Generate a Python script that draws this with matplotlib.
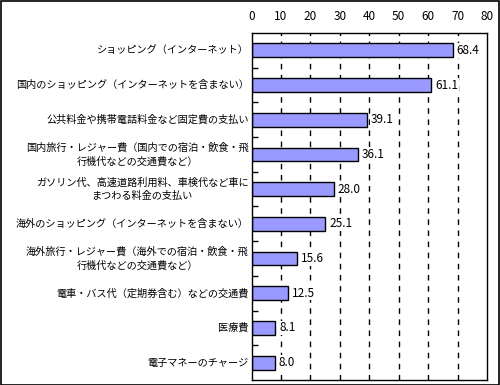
import matplotlib
matplotlib.use('Agg')
import matplotlib.pyplot as plt
from matplotlib.patches import Rectangle

plt.rcParams['font.family'] = ['Noto Sans CJK JP', 'DejaVu Sans']

# データ
categories = [
    'ショッピング（インターネット）',
    '国内のショッピング（インターネットを含まない）',
    '公共料金や携帯電話料金など固定費の支払い',
    '国内旅行・レジャー費（国内での宿泊・飲食・飛\n行機代などの交通費など）',
    'ガソリン代、高速道路利用料、車検代など車に\nまつわる料金の支払い',
    '海外のショッピング（インターネットを含まない）',
    '海外旅行・レジャー費（海外での宿泊・飲食・飛\n行機代などの交通費など）',
    '電車・バス代（定期券含む）などの交通費',
    '医療費',
    '電子マネーのチャージ',
]
values = [68.4, 61.1, 39.1, 36.1, 28.0, 25.1, 15.6, 12.5, 8.1, 8.0]
x_ticks = [0, 10, 20, 30, 40, 50, 60, 70, 80]

fig = plt.figure(figsize=(5, 3.85), dpi=100)
ax = fig.add_axes([251.5 / 500, 5 / 385, 235.5 / 500, 347 / 385])

y = list(range(len(categories)))
ax.barh(y, values, height=0.4, color='#9999ff', edgecolor='black',
        linewidth=1, zorder=2)

# 値ラベル
for yi, v in zip(y, values):
    ax.text(v + 1.3, yi, f'{v:.1f}', va='center', ha='left', fontsize=8.5,
            zorder=3, bbox=dict(facecolor='white', edgecolor='none', pad=0.5))

ax.set_xlim(0, 80)
ax.set_ylim(len(categories) - 0.5, -0.5)
ax.set_xticks(x_ticks)
ax.xaxis.tick_top()
ax.tick_params(axis='x', length=0, labelsize=8.5, pad=7)

# カテゴリ境界の目盛り
ax.set_yticks([i + 0.5 for i in range(len(categories) - 1)])
ax.set_yticklabels([])
ax.tick_params(axis='y', direction='in', length=4, width=1)

for yi, label in zip(y, categories):
    ax.text(-1.0, yi, label, ha='right', va='center', multialignment='center',
            fontsize=7.3, linespacing=1.4)

# グリッド
for gx in x_ticks[1:-1]:
    ax.axvline(gx, color='black', linestyle=(0, (4, 4)), linewidth=1, zorder=1)

for spine in ax.spines.values():
    spine.set_linewidth(1)
    spine.set_zorder(4)

# 外枠
fig.patches.append(Rectangle((0.001, 0.001), 0.997, 0.996, transform=fig.transFigure,
                             fill=False, edgecolor='black', linewidth=1.2))

fig.savefig('out.png', dpi=100)
plt.close(fig)
